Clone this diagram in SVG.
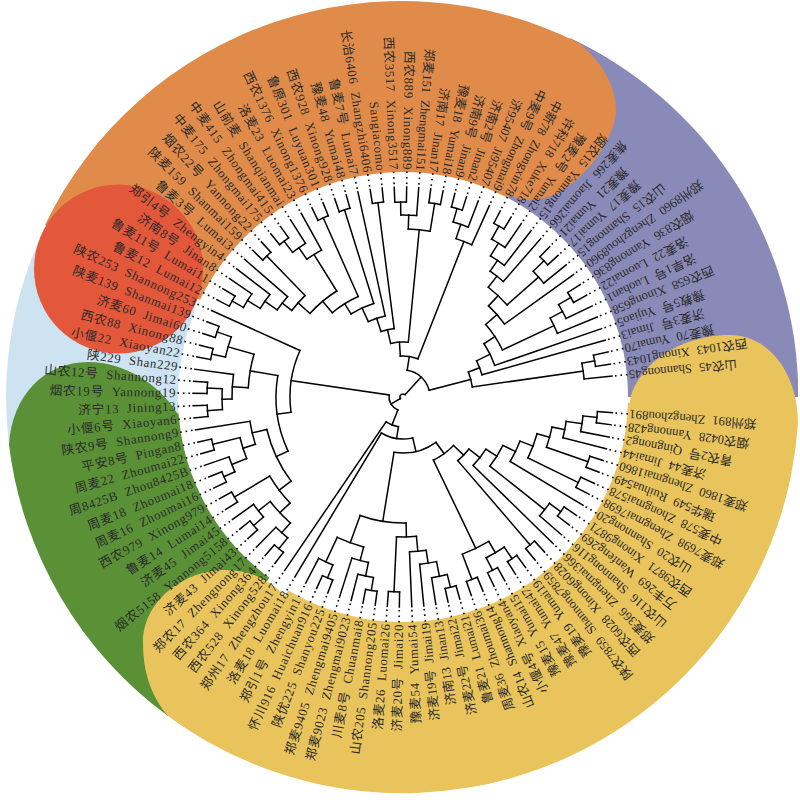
<svg xmlns="http://www.w3.org/2000/svg" width="800" height="800" viewBox="0 0 800 800">
<style>
#tree *{fill:none;stroke:#000;stroke-width:1.5;stroke-linecap:square}
#dots *{fill:none;stroke:#000;stroke-width:1.6;stroke-dasharray:1.6 3.9}
text{font-family:"Liberation Serif","Noto Sans CJK SC",serif;text-anchor:end;dominant-baseline:central;fill:#2b2b2b;word-spacing:4px}
.r{font-size:12.7px}
.l{font-size:12.8px;letter-spacing:.65px}
</style>
<defs><path id="d" d="M213 0H227"/></defs>
<g id="regions">
<path fill="#cde3f1" d="M402 397L37 245A396 396 0 0 0 9 445Z"/>
<path fill="#8a8ab8" d="M402 397L570 38A396 396 0 0 1 798 380L798 397Z"/>
<path fill="#e08b4a" d="M402 397L45 225A396 396 0 0 1 579 43C600 60 616 85 616 110C616 140 575 200 530 200C522 200 515 198 510 195Z"/>
<circle fill="#e3573a" cx="118.5" cy="269" r="84.5"/>
<path fill="#5a9136" d="M402 397L190 420L177 413C160 385 125 362 88 362C45 362 12 395 9 445A396 396 0 0 0 168 716Z"/>
<path fill="#e9c45c" d="M402 397L620 400L630 403C632 375 670 335 730 335C770 335 798 375 798 423A396 396 0 0 1 168 716C150 695 143 670 143 643C143 600 185 570 225 570C250 570 270 580 285 596Z"/>
<circle fill="#fff" cx="403" cy="397" r="225"/>
</g>
<g transform="translate(403 397)">
<g id="connectors">
<g id="dots">
<use href="#d" transform="rotate(4.3)"/><use href="#d" transform="rotate(7.6)"/><use href="#d" transform="rotate(11)"/><use href="#d" transform="rotate(14.3)"/><use href="#d" transform="rotate(17.6)"/><use href="#d" transform="rotate(21)"/><use href="#d" transform="rotate(24.3)"/><use href="#d" transform="rotate(27.6)"/><use href="#d" transform="rotate(31)"/><use href="#d" transform="rotate(34.3)"/><use href="#d" transform="rotate(37.6)"/><use href="#d" transform="rotate(41)"/><use href="#d" transform="rotate(44.3)"/><use href="#d" transform="rotate(47.6)"/><use href="#d" transform="rotate(51)"/><use href="#d" transform="rotate(54.3)"/><use href="#d" transform="rotate(57.6)"/><use href="#d" transform="rotate(61)"/><use href="#d" transform="rotate(64.3)"/><use href="#d" transform="rotate(67.6)"/><use href="#d" transform="rotate(71)"/><use href="#d" transform="rotate(74.3)"/><use href="#d" transform="rotate(77.6)"/><use href="#d" transform="rotate(81)"/><use href="#d" transform="rotate(84.3)"/><use href="#d" transform="rotate(87.6)"/><use href="#d" transform="rotate(91)"/><use href="#d" transform="rotate(94.3)"/><use href="#d" transform="rotate(97.6)"/><use href="#d" transform="rotate(101)"/><use href="#d" transform="rotate(104.3)"/><use href="#d" transform="rotate(107.6)"/><use href="#d" transform="rotate(111)"/><use href="#d" transform="rotate(114.3)"/><use href="#d" transform="rotate(117.6)"/><use href="#d" transform="rotate(121)"/><use href="#d" transform="rotate(124.3)"/><use href="#d" transform="rotate(127.6)"/><use href="#d" transform="rotate(131)"/><use href="#d" transform="rotate(134.3)"/><use href="#d" transform="rotate(137.6)"/><use href="#d" transform="rotate(141)"/><use href="#d" transform="rotate(144.3)"/><use href="#d" transform="rotate(147.6)"/><use href="#d" transform="rotate(151)"/><use href="#d" transform="rotate(154.3)"/><use href="#d" transform="rotate(157.6)"/><use href="#d" transform="rotate(161)"/><use href="#d" transform="rotate(164.3)"/><use href="#d" transform="rotate(167.6)"/><use href="#d" transform="rotate(171)"/><use href="#d" transform="rotate(174.3)"/><use href="#d" transform="rotate(177.6)"/><use href="#d" transform="rotate(181)"/><use href="#d" transform="rotate(184.3)"/><use href="#d" transform="rotate(187.6)"/><use href="#d" transform="rotate(191)"/><use href="#d" transform="rotate(194.3)"/><use href="#d" transform="rotate(197.6)"/><use href="#d" transform="rotate(201)"/><use href="#d" transform="rotate(204.3)"/><use href="#d" transform="rotate(207.6)"/><use href="#d" transform="rotate(211)"/><use href="#d" transform="rotate(214.3)"/><use href="#d" transform="rotate(217.6)"/><use href="#d" transform="rotate(221)"/><use href="#d" transform="rotate(224.3)"/><use href="#d" transform="rotate(227.6)"/><use href="#d" transform="rotate(231)"/><use href="#d" transform="rotate(234.3)"/><use href="#d" transform="rotate(237.6)"/><use href="#d" transform="rotate(241)"/><use href="#d" transform="rotate(244.3)"/><use href="#d" transform="rotate(247.6)"/><use href="#d" transform="rotate(251)"/><use href="#d" transform="rotate(254.3)"/><use href="#d" transform="rotate(257.6)"/><use href="#d" transform="rotate(261)"/><use href="#d" transform="rotate(264.3)"/><use href="#d" transform="rotate(267.6)"/><use href="#d" transform="rotate(271)"/><use href="#d" transform="rotate(274.3)"/><use href="#d" transform="rotate(277.6)"/><use href="#d" transform="rotate(281)"/><use href="#d" transform="rotate(284.3)"/><use href="#d" transform="rotate(287.6)"/><use href="#d" transform="rotate(291)"/><use href="#d" transform="rotate(294.3)"/><use href="#d" transform="rotate(297.6)"/><use href="#d" transform="rotate(301)"/><use href="#d" transform="rotate(304.3)"/><use href="#d" transform="rotate(307.6)"/><use href="#d" transform="rotate(311)"/><use href="#d" transform="rotate(314.3)"/><use href="#d" transform="rotate(317.6)"/><use href="#d" transform="rotate(321)"/><use href="#d" transform="rotate(324.3)"/><use href="#d" transform="rotate(327.6)"/><use href="#d" transform="rotate(331)"/><use href="#d" transform="rotate(334.3)"/><use href="#d" transform="rotate(337.6)"/><use href="#d" transform="rotate(341)"/><use href="#d" transform="rotate(344.3)"/><use href="#d" transform="rotate(347.6)"/><use href="#d" transform="rotate(351)"/><use href="#d" transform="rotate(354.3)"/>
</g>
<g id="tree">
<circle r="195" pathLength="360" stroke-dasharray="3.3 999" transform="rotate(4.3)"/><path d="M195 0H210" transform="rotate(4.3)"/><path d="M195 0H210" transform="rotate(7.6)"/>
<circle r="181" pathLength="360" stroke-dasharray="5 999" transform="rotate(6)"/><path d="M181 0H195" transform="rotate(6)"/><path d="M181 0H210" transform="rotate(11)"/>
<circle r="165" pathLength="360" stroke-dasharray="5.8 999" transform="rotate(8.5)"/><path d="M165 0H181" transform="rotate(8.5)"/><path d="M165 0H210" transform="rotate(14.3)"/>
<circle r="196" pathLength="360" stroke-dasharray="3.4 999" transform="rotate(17.6)"/><path d="M196 0H210" transform="rotate(17.6)"/><path d="M196 0H210" transform="rotate(21)"/>
<circle r="152" pathLength="360" stroke-dasharray="7.9 999" transform="rotate(11.4)"/><path d="M152 0H165" transform="rotate(11.4)"/><path d="M152 0H196" transform="rotate(19.3)"/>
<circle r="195" pathLength="360" stroke-dasharray="3.3 999" transform="rotate(24.3)"/><path d="M195 0H210" transform="rotate(24.3)"/><path d="M195 0H210" transform="rotate(27.6)"/>
<circle r="139" pathLength="360" stroke-dasharray="10.65 999" transform="rotate(15.35)"/><path d="M139 0H152" transform="rotate(15.35)"/><path d="M139 0H195" transform="rotate(26)"/>
<circle r="125" pathLength="360" stroke-dasharray="10.3 999" transform="rotate(20.7)"/><path d="M125 0H139" transform="rotate(20.7)"/><path d="M125 0H210" transform="rotate(31)"/>
<circle r="195" pathLength="360" stroke-dasharray="3.3 999" transform="rotate(34.3)"/><path d="M195 0H210" transform="rotate(34.3)"/><path d="M195 0H210" transform="rotate(37.6)"/>
<circle r="181" pathLength="360" stroke-dasharray="5 999" transform="rotate(36)"/><path d="M181 0H195" transform="rotate(36)"/><path d="M181 0H210" transform="rotate(41)"/>
<circle r="111" pathLength="360" stroke-dasharray="12.65 999" transform="rotate(25.85)"/><path d="M111 0H125" transform="rotate(25.85)"/><path d="M111 0H181" transform="rotate(38.5)"/>
<circle r="98" pathLength="360" stroke-dasharray="12.1 999" transform="rotate(32.2)"/><path d="M98 0H111" transform="rotate(32.2)"/><path d="M98 0H210" transform="rotate(44.3)"/>
<circle r="195" pathLength="360" stroke-dasharray="3.4 999" transform="rotate(47.6)"/><path d="M195 0H210" transform="rotate(47.6)"/><path d="M195 0H210" transform="rotate(51)"/>
<circle r="84" pathLength="360" stroke-dasharray="11.05 999" transform="rotate(38.25)"/><path d="M84 0H98" transform="rotate(38.25)"/><path d="M84 0H195" transform="rotate(49.3)"/>
<circle r="195" pathLength="360" stroke-dasharray="3.3 999" transform="rotate(54.3)"/><path d="M195 0H210" transform="rotate(54.3)"/><path d="M195 0H210" transform="rotate(57.6)"/>
<circle r="195" pathLength="360" stroke-dasharray="3.3 999" transform="rotate(61)"/><path d="M195 0H210" transform="rotate(61)"/><path d="M195 0H210" transform="rotate(64.3)"/>
<circle r="181" pathLength="360" stroke-dasharray="6.65 999" transform="rotate(56)"/><path d="M181 0H195" transform="rotate(56)"/><path d="M181 0H195" transform="rotate(62.65)"/>
<circle r="195" pathLength="360" stroke-dasharray="3.4 999" transform="rotate(67.6)"/><path d="M195 0H210" transform="rotate(67.6)"/><path d="M195 0H210" transform="rotate(71)"/>
<circle r="168" pathLength="360" stroke-dasharray="10 999" transform="rotate(59.3)"/><path d="M168 0H181" transform="rotate(59.3)"/><path d="M168 0H195" transform="rotate(69.3)"/>
<circle r="70" pathLength="360" stroke-dasharray="20.5 999" transform="rotate(43.8)"/><path d="M70 0H84" transform="rotate(43.8)"/><path d="M70 0H168" transform="rotate(64.3)"/>
<circle r="196" pathLength="360" stroke-dasharray="3.3 999" transform="rotate(74.3)"/><path d="M196 0H210" transform="rotate(74.3)"/><path d="M196 0H210" transform="rotate(77.6)"/>
<circle r="183" pathLength="360" stroke-dasharray="5 999" transform="rotate(76)"/><path d="M183 0H196" transform="rotate(76)"/><path d="M183 0H210" transform="rotate(81)"/>
<circle r="168" pathLength="360" stroke-dasharray="5.8 999" transform="rotate(78.5)"/><path d="M168 0H183" transform="rotate(78.5)"/><path d="M168 0H210" transform="rotate(84.3)"/>
<circle r="155" pathLength="360" stroke-dasharray="6.2 999" transform="rotate(81.4)"/><path d="M155 0H168" transform="rotate(81.4)"/><path d="M155 0H210" transform="rotate(87.6)"/>
<circle r="195" pathLength="360" stroke-dasharray="3.3 999" transform="rotate(91)"/><path d="M195 0H210" transform="rotate(91)"/><path d="M195 0H210" transform="rotate(94.3)"/>
<circle r="140" pathLength="360" stroke-dasharray="8.15 999" transform="rotate(84.5)"/><path d="M140 0H155" transform="rotate(84.5)"/><path d="M140 0H195" transform="rotate(92.65)"/>
<circle r="196" pathLength="360" stroke-dasharray="3.4 999" transform="rotate(97.6)"/><path d="M196 0H210" transform="rotate(97.6)"/><path d="M196 0H210" transform="rotate(101)"/>
<circle r="183" pathLength="360" stroke-dasharray="5 999" transform="rotate(99.3)"/><path d="M183 0H196" transform="rotate(99.3)"/><path d="M183 0H210" transform="rotate(104.3)"/>
<circle r="169" pathLength="360" stroke-dasharray="5.8 999" transform="rotate(101.8)"/><path d="M169 0H183" transform="rotate(101.8)"/><path d="M169 0H210" transform="rotate(107.6)"/>
<circle r="196" pathLength="360" stroke-dasharray="3.3 999" transform="rotate(111)"/><path d="M196 0H210" transform="rotate(111)"/><path d="M196 0H210" transform="rotate(114.3)"/>
<circle r="182" pathLength="360" stroke-dasharray="4.95 999" transform="rotate(112.65)"/><path d="M182 0H196" transform="rotate(112.65)"/><path d="M182 0H210" transform="rotate(117.6)"/>
<circle r="155" pathLength="360" stroke-dasharray="10.4 999" transform="rotate(104.7)"/><path d="M155 0H169" transform="rotate(104.7)"/><path d="M155 0H182" transform="rotate(115.1)"/>
<circle r="126" pathLength="360" stroke-dasharray="21.3 999" transform="rotate(88.6)"/><path d="M126 0H140" transform="rotate(88.6)"/><path d="M126 0H155" transform="rotate(109.9)"/>
<circle r="56" pathLength="360" stroke-dasharray="45.25 999" transform="rotate(54)"/><path d="M56 0H70" transform="rotate(54)"/><path d="M56 0H126" transform="rotate(99.25)"/>
<circle r="42" pathLength="360" stroke-dasharray="44.4 999" transform="rotate(76.6)"/><path d="M42 0H56" transform="rotate(76.6)"/><path d="M42 0H210" transform="rotate(121)"/>
<circle r="30" pathLength="360" stroke-dasharray="25.5 999" transform="rotate(98.8)"/><path d="M30 0H42" transform="rotate(98.8)"/><path d="M30 0H210" transform="rotate(124.3)"/>
<circle r="196" pathLength="360" stroke-dasharray="3.4 999" transform="rotate(127.6)"/><path d="M196 0H210" transform="rotate(127.6)"/><path d="M196 0H210" transform="rotate(131)"/>
<circle r="182" pathLength="360" stroke-dasharray="5 999" transform="rotate(129.3)"/><path d="M182 0H196" transform="rotate(129.3)"/><path d="M182 0H210" transform="rotate(134.3)"/>
<circle r="197" pathLength="360" stroke-dasharray="3.4 999" transform="rotate(137.6)"/><path d="M197 0H210" transform="rotate(137.6)"/><path d="M197 0H210" transform="rotate(141)"/>
<circle r="184" pathLength="360" stroke-dasharray="5 999" transform="rotate(139.3)"/><path d="M184 0H197" transform="rotate(139.3)"/><path d="M184 0H210" transform="rotate(144.3)"/>
<circle r="169" pathLength="360" stroke-dasharray="10 999" transform="rotate(131.8)"/><path d="M169 0H182" transform="rotate(131.8)"/><path d="M169 0H184" transform="rotate(141.8)"/>
<circle r="196" pathLength="360" stroke-dasharray="3.4 999" transform="rotate(147.6)"/><path d="M196 0H210" transform="rotate(147.6)"/><path d="M196 0H210" transform="rotate(151)"/>
<circle r="155" pathLength="360" stroke-dasharray="12.5 999" transform="rotate(136.8)"/><path d="M155 0H169" transform="rotate(136.8)"/><path d="M155 0H196" transform="rotate(149.3)"/>
<circle r="196" pathLength="360" stroke-dasharray="3.3 999" transform="rotate(154.3)"/><path d="M196 0H210" transform="rotate(154.3)"/><path d="M196 0H210" transform="rotate(157.6)"/>
<circle r="184" pathLength="360" stroke-dasharray="5 999" transform="rotate(156)"/><path d="M184 0H196" transform="rotate(156)"/><path d="M184 0H210" transform="rotate(161)"/>
<circle r="196" pathLength="360" stroke-dasharray="3.3 999" transform="rotate(164.3)"/><path d="M196 0H210" transform="rotate(164.3)"/><path d="M196 0H210" transform="rotate(167.6)"/>
<circle r="168" pathLength="360" stroke-dasharray="7.5 999" transform="rotate(158.5)"/><path d="M168 0H184" transform="rotate(158.5)"/><path d="M168 0H196" transform="rotate(166)"/>
<circle r="155" pathLength="360" stroke-dasharray="8.75 999" transform="rotate(162.25)"/><path d="M155 0H168" transform="rotate(162.25)"/><path d="M155 0H210" transform="rotate(171)"/>
<circle r="140" pathLength="360" stroke-dasharray="23.55 999" transform="rotate(143.05)"/><path d="M140 0H155" transform="rotate(143.05)"/><path d="M140 0H155" transform="rotate(166.6)"/>
<circle r="196" pathLength="360" stroke-dasharray="3.3 999" transform="rotate(174.3)"/><path d="M196 0H210" transform="rotate(174.3)"/><path d="M196 0H210" transform="rotate(177.6)"/>
<circle r="196" pathLength="360" stroke-dasharray="3.3 999" transform="rotate(181)"/><path d="M196 0H210" transform="rotate(181)"/><path d="M196 0H210" transform="rotate(184.3)"/>
<circle r="181" pathLength="360" stroke-dasharray="6.65 999" transform="rotate(176)"/><path d="M181 0H196" transform="rotate(176)"/><path d="M181 0H196" transform="rotate(182.65)"/>
<circle r="171" pathLength="360" stroke-dasharray="8.3 999" transform="rotate(179.3)"/><path d="M171 0H181" transform="rotate(179.3)"/><path d="M171 0H210" transform="rotate(187.6)"/>
<circle r="196" pathLength="360" stroke-dasharray="3.3 999" transform="rotate(191)"/><path d="M196 0H210" transform="rotate(191)"/><path d="M196 0H210" transform="rotate(194.3)"/>
<circle r="197" pathLength="360" stroke-dasharray="3.4 999" transform="rotate(197.6)"/><path d="M197 0H210" transform="rotate(197.6)"/><path d="M197 0H210" transform="rotate(201)"/>
<circle r="182" pathLength="360" stroke-dasharray="6.65 999" transform="rotate(192.65)"/><path d="M182 0H196" transform="rotate(192.65)"/><path d="M182 0H197" transform="rotate(199.3)"/>
<circle r="155" pathLength="360" stroke-dasharray="12.55 999" transform="rotate(183.45)"/><path d="M155 0H171" transform="rotate(183.45)"/><path d="M155 0H182" transform="rotate(196)"/>
<circle r="127" pathLength="360" stroke-dasharray="34.9 999" transform="rotate(154.8)"/><path d="M127 0H140" transform="rotate(154.8)"/><path d="M127 0H155" transform="rotate(189.7)"/>
<circle r="113" pathLength="360" stroke-dasharray="32.05 999" transform="rotate(172.25)"/><path d="M113 0H127" transform="rotate(172.25)"/><path d="M113 0H210" transform="rotate(204.3)"/>
<circle r="14" pathLength="360" stroke-dasharray="76.8 999" transform="rotate(111.5)"/><path d="M14 0H30" transform="rotate(111.5)"/><path d="M14 0H113" transform="rotate(188.3)"/>
<circle r="196" pathLength="360" stroke-dasharray="3.4 999" transform="rotate(207.6)"/><path d="M196 0H210" transform="rotate(207.6)"/><path d="M196 0H210" transform="rotate(211)"/>
<circle r="183" pathLength="360" stroke-dasharray="5 999" transform="rotate(209.3)"/><path d="M183 0H196" transform="rotate(209.3)"/><path d="M183 0H210" transform="rotate(214.3)"/>
<circle r="168" pathLength="360" stroke-dasharray="5.8 999" transform="rotate(211.8)"/><path d="M168 0H183" transform="rotate(211.8)"/><path d="M168 0H210" transform="rotate(217.6)"/>
<circle r="153" pathLength="360" stroke-dasharray="6.3 999" transform="rotate(214.7)"/><path d="M153 0H168" transform="rotate(214.7)"/><path d="M153 0H210" transform="rotate(221)"/>
<circle r="196" pathLength="360" stroke-dasharray="3.3 999" transform="rotate(224.3)"/><path d="M196 0H210" transform="rotate(224.3)"/><path d="M196 0H210" transform="rotate(227.6)"/>
<circle r="141" pathLength="360" stroke-dasharray="8.15 999" transform="rotate(217.85)"/><path d="M141 0H153" transform="rotate(217.85)"/><path d="M141 0H196" transform="rotate(226)"/>
<circle r="196" pathLength="360" stroke-dasharray="3.3 999" transform="rotate(231)"/><path d="M196 0H210" transform="rotate(231)"/><path d="M196 0H210" transform="rotate(234.3)"/>
<circle r="182" pathLength="360" stroke-dasharray="4.95 999" transform="rotate(232.65)"/><path d="M182 0H196" transform="rotate(232.65)"/><path d="M182 0H210" transform="rotate(237.6)"/>
<circle r="168" pathLength="360" stroke-dasharray="5.9 999" transform="rotate(235.1)"/><path d="M168 0H182" transform="rotate(235.1)"/><path d="M168 0H210" transform="rotate(241)"/>
<circle r="125" pathLength="360" stroke-dasharray="16.1 999" transform="rotate(221.9)"/><path d="M125 0H141" transform="rotate(221.9)"/><path d="M125 0H168" transform="rotate(238)"/>
<circle r="196" pathLength="360" stroke-dasharray="3.3 999" transform="rotate(244.3)"/><path d="M196 0H210" transform="rotate(244.3)"/><path d="M196 0H210" transform="rotate(247.6)"/>
<circle r="110" pathLength="360" stroke-dasharray="16 999" transform="rotate(230)"/><path d="M110 0H125" transform="rotate(230)"/><path d="M110 0H196" transform="rotate(246)"/>
<circle r="196" pathLength="360" stroke-dasharray="3.3 999" transform="rotate(251)"/><path d="M196 0H210" transform="rotate(251)"/><path d="M196 0H210" transform="rotate(254.3)"/>
<circle r="98" pathLength="360" stroke-dasharray="14.65 999" transform="rotate(238)"/><path d="M98 0H110" transform="rotate(238)"/><path d="M98 0H196" transform="rotate(252.65)"/>
<circle r="83" pathLength="360" stroke-dasharray="12.3 999" transform="rotate(245.3)"/><path d="M83 0H98" transform="rotate(245.3)"/><path d="M83 0H210" transform="rotate(257.6)"/>
<circle r="196" pathLength="360" stroke-dasharray="3.3 999" transform="rotate(261)"/><path d="M196 0H210" transform="rotate(261)"/><path d="M196 0H210" transform="rotate(264.3)"/>
<circle r="69" pathLength="360" stroke-dasharray="11.2 999" transform="rotate(251.45)"/><path d="M69 0H83" transform="rotate(251.45)"/><path d="M69 0H196" transform="rotate(262.65)"/>
<circle r="195" pathLength="360" stroke-dasharray="3.4 999" transform="rotate(267.6)"/><path d="M195 0H210" transform="rotate(267.6)"/><path d="M195 0H210" transform="rotate(271)"/>
<circle r="182" pathLength="360" stroke-dasharray="5 999" transform="rotate(269.3)"/><path d="M182 0H195" transform="rotate(269.3)"/><path d="M182 0H210" transform="rotate(274.3)"/>
<circle r="196" pathLength="360" stroke-dasharray="3.4 999" transform="rotate(277.6)"/><path d="M196 0H210" transform="rotate(277.6)"/><path d="M196 0H210" transform="rotate(281)"/>
<circle r="168" pathLength="360" stroke-dasharray="7.5 999" transform="rotate(271.8)"/><path d="M168 0H182" transform="rotate(271.8)"/><path d="M168 0H196" transform="rotate(279.3)"/>
<circle r="55" pathLength="360" stroke-dasharray="18.55 999" transform="rotate(257)"/><path d="M55 0H69" transform="rotate(257)"/><path d="M55 0H168" transform="rotate(275.55)"/>
<circle r="196" pathLength="360" stroke-dasharray="3.3 999" transform="rotate(284.3)"/><path d="M196 0H210" transform="rotate(284.3)"/><path d="M196 0H210" transform="rotate(287.6)"/>
<circle r="182" pathLength="360" stroke-dasharray="5 999" transform="rotate(286)"/><path d="M182 0H196" transform="rotate(286)"/><path d="M182 0H210" transform="rotate(291)"/>
<circle r="167" pathLength="360" stroke-dasharray="5.8 999" transform="rotate(288.5)"/><path d="M167 0H182" transform="rotate(288.5)"/><path d="M167 0H210" transform="rotate(294.3)"/>
<circle r="41" pathLength="360" stroke-dasharray="25.1 999" transform="rotate(266.3)"/><path d="M41 0H55" transform="rotate(266.3)"/><path d="M41 0H167" transform="rotate(291.4)"/>
<circle r="196" pathLength="360" stroke-dasharray="3.4 999" transform="rotate(297.6)"/><path d="M196 0H210" transform="rotate(297.6)"/><path d="M196 0H210" transform="rotate(301)"/>
<circle r="181" pathLength="360" stroke-dasharray="5 999" transform="rotate(299.3)"/><path d="M181 0H196" transform="rotate(299.3)"/><path d="M181 0H210" transform="rotate(304.3)"/>
<circle r="166" pathLength="360" stroke-dasharray="5.8 999" transform="rotate(301.8)"/><path d="M166 0H181" transform="rotate(301.8)"/><path d="M166 0H210" transform="rotate(307.6)"/>
<circle r="153" pathLength="360" stroke-dasharray="6.3 999" transform="rotate(304.7)"/><path d="M153 0H166" transform="rotate(304.7)"/><path d="M153 0H210" transform="rotate(311)"/>
<circle r="196" pathLength="360" stroke-dasharray="3.3 999" transform="rotate(314.3)"/><path d="M196 0H210" transform="rotate(314.3)"/><path d="M196 0H210" transform="rotate(317.6)"/>
<circle r="181" pathLength="360" stroke-dasharray="5 999" transform="rotate(316)"/><path d="M181 0H196" transform="rotate(316)"/><path d="M181 0H210" transform="rotate(321)"/>
<circle r="139" pathLength="360" stroke-dasharray="10.65 999" transform="rotate(307.85)"/><path d="M139 0H153" transform="rotate(307.85)"/><path d="M139 0H181" transform="rotate(318.5)"/>
<circle r="125" pathLength="360" stroke-dasharray="11.1 999" transform="rotate(313.2)"/><path d="M125 0H139" transform="rotate(313.2)"/><path d="M125 0H210" transform="rotate(324.3)"/>
<circle r="195" pathLength="360" stroke-dasharray="3.4 999" transform="rotate(327.6)"/><path d="M195 0H210" transform="rotate(327.6)"/><path d="M195 0H210" transform="rotate(331)"/>
<circle r="181" pathLength="360" stroke-dasharray="5 999" transform="rotate(329.3)"/><path d="M181 0H195" transform="rotate(329.3)"/><path d="M181 0H210" transform="rotate(334.3)"/>
<circle r="167" pathLength="360" stroke-dasharray="5.8 999" transform="rotate(331.8)"/><path d="M167 0H181" transform="rotate(331.8)"/><path d="M167 0H210" transform="rotate(337.6)"/>
<circle r="110" pathLength="360" stroke-dasharray="15.95 999" transform="rotate(318.75)"/><path d="M110 0H125" transform="rotate(318.75)"/><path d="M110 0H167" transform="rotate(334.7)"/>
<circle r="97" pathLength="360" stroke-dasharray="14.3 999" transform="rotate(326.7)"/><path d="M97 0H110" transform="rotate(326.7)"/><path d="M97 0H210" transform="rotate(341)"/>
<circle r="82" pathLength="360" stroke-dasharray="10.45 999" transform="rotate(333.85)"/><path d="M82 0H97" transform="rotate(333.85)"/><path d="M82 0H210" transform="rotate(344.3)"/>
<circle r="195" pathLength="360" stroke-dasharray="3.4 999" transform="rotate(347.6)"/><path d="M195 0H210" transform="rotate(347.6)"/><path d="M195 0H210" transform="rotate(351)"/>
<circle r="182" pathLength="360" stroke-dasharray="5 999" transform="rotate(349.3)"/><path d="M182 0H195" transform="rotate(349.3)"/><path d="M182 0H210" transform="rotate(354.3)"/>
<circle r="70" pathLength="360" stroke-dasharray="12.7 999" transform="rotate(339.1)"/><path d="M70 0H82" transform="rotate(339.1)"/><path d="M70 0H182" transform="rotate(351.8)"/>
<circle r="27" pathLength="360" stroke-dasharray="66.6 999" transform="rotate(278.85)"/><path d="M27 0H41" transform="rotate(278.85)"/><path d="M27 0H70" transform="rotate(345.45)"/>
<circle r="3" pathLength="360" stroke-dasharray="162.25 999" transform="rotate(149.9)"/><path d="M3 0H14" transform="rotate(149.9)"/><path d="M3 0H27" transform="rotate(312.15)"/>
</g>
</g>
<g id="n0"><text class="r" x="-227" transform="rotate(184.3)">郑州891 Zhengzhou891</text></g>
<g id="n1"><text class="r" x="-227" transform="rotate(187.6)">烟农0428 Yannong428</text></g>
<g id="n2"><text class="r" x="-227" transform="rotate(191)">青农2号 Qingnong2</text></g>
<g id="n3"><text class="r" x="-227" transform="rotate(194.3)">济麦44 Jimai44</text></g>
<g id="n4"><text class="r" x="-227" transform="rotate(197.6)">郑麦1860 Zhengmai1860</text></g>
<g id="n5"><text class="r" x="-227" transform="rotate(201)">瑞华549 Ruihua549</text></g>
<g id="n6"><text class="r" x="-227" transform="rotate(204.3)">中麦578 Zhongmai578</text></g>
<g id="n7"><text class="r" x="-227" transform="rotate(207.6)">郑麦7698 Zhengmai7698</text></g>
<g id="n8"><text class="r" x="-227" transform="rotate(211)">山农20 Shannong20</text></g>
<g id="n9"><text class="r" x="-227" transform="rotate(214.3)">西农9871 Xinong9871</text></g>
<g id="n10"><text class="r" x="-227" transform="rotate(217.6)">万丰269 Wanfeng269</text></g>
<g id="n11"><text class="r" x="-227" transform="rotate(221)">山农116 Shannong116</text></g>
<g id="n12"><text class="r" x="-227" transform="rotate(224.3)">郑麦366 Zhengmai366</text></g>
<g id="n13"><text class="r" x="-227" transform="rotate(227.6)">西农6028 Xinong6028</text></g>
<g id="n14"><text class="r" x="-227" transform="rotate(231)">陕农7859 Shannong7859</text></g>
<g id="n15"><text class="r" x="-227" transform="rotate(234.3)">豫麦19 Yumai19</text></g>
<g id="n16"><text class="r" x="-227" transform="rotate(237.6)">豫麦47 Yumai47</text></g>
<g id="n17"><text class="r" x="-227" transform="rotate(241)">豫麦15 Yumai15</text></g>
<g id="n18"><text class="r" x="-227" transform="rotate(244.3)">小偃4号 Xiaoyan4</text></g>
<g id="n19"><text class="r" x="-227" transform="rotate(247.6)">山农14 Shannong14</text></g>
<g id="n20"><text class="r" x="-227" transform="rotate(251)">周麦36 Zhoumai36</text></g>
<g id="n21"><text class="r" x="-227" transform="rotate(254.3)">鲁麦21 Lumai21</text></g>
<g id="n22"><text class="r" x="-227" transform="rotate(257.6)">济麦22号 Jimai22</text></g>
<g id="n23"><text class="r" x="-227" transform="rotate(261)">济南13 Jinan13</text></g>
<g id="n24"><text class="r" x="-227" transform="rotate(264.3)">济麦19号 Jimai19</text></g>
<g id="n25"><text class="l" x="-227" transform="rotate(267.6)">豫麦54 Yumai54</text></g>
<g id="n26"><text class="l" x="-227" transform="rotate(271)">济麦20号 Jimai20</text></g>
<g id="n27"><text class="l" x="-227" transform="rotate(274.3)">洛麦26 Luomai26</text></g>
<g id="n28"><text class="l" x="-227" transform="rotate(277.6)">山农205 Shannong205</text></g>
<g id="n29"><text class="l" x="-227" transform="rotate(281)">川麦8号 Chuanmai8</text></g>
<g id="n30"><text class="l" x="-227" transform="rotate(284.3)">郑麦9023 Zhengmai9023</text></g>
<g id="n31"><text class="l" x="-227" transform="rotate(287.6)">郑麦9405 Zhengmai9405</text></g>
<g id="n32"><text class="l" x="-227" transform="rotate(291)">陕优225 Shanyou225</text></g>
<g id="n33"><text class="l" x="-227" transform="rotate(294.3)">怀川916 Huaichuan916</text></g>
<g id="n34"><text class="l" x="-227" transform="rotate(297.6)">郑引1号 Zhengyin1</text></g>
<g id="n35"><text class="l" x="-227" transform="rotate(301)">洛麦18 Luomai18</text></g>
<g id="n36"><text class="l" x="-227" transform="rotate(304.3)">郑州17 Zhengzhou17</text></g>
<g id="n37"><text class="l" x="-227" transform="rotate(307.6)">西农528 Xinong528</text></g>
<g id="n38"><text class="l" x="-227" transform="rotate(311)">西农364 Xinong364</text></g>
<g id="n39"><text class="l" x="-227" transform="rotate(314.3)">郑农17 Zhengnong17</text></g>
<g id="n40"><text class="l" x="-227" transform="rotate(317.6)">济麦43 Jimai43</text></g>
<g id="n41"><text class="l" x="-227" transform="rotate(321)">烟农5158 Yannong5158</text></g>
<g id="n42"><text class="l" x="-227" transform="rotate(324.3)">济麦45 Jimai45</text></g>
<g id="n43"><text class="l" x="-227" transform="rotate(327.6)">鲁麦14 Lumai14</text></g>
<g id="n44"><text class="l" x="-227" transform="rotate(331)">西农979 Xinong979</text></g>
<g id="n45"><text class="l" x="-227" transform="rotate(334.3)">周麦16 Zhoumai16</text></g>
<g id="n46"><text class="l" x="-227" transform="rotate(337.6)">周麦18 Zhoumai18</text></g>
<g id="n47"><text class="l" x="-227" transform="rotate(341)">周8425B Zhou8425B</text></g>
<g id="n48"><text class="l" x="-227" transform="rotate(344.3)">周麦22 Zhoumai22</text></g>
<g id="n49"><text class="l" x="-227" transform="rotate(347.6)">平安8号 Pingan8</text></g>
<g id="n50"><text class="l" x="-227" transform="rotate(351)">陕农9号 Shannong9</text></g>
<g id="n51"><text class="l" x="-227" transform="rotate(354.3)">小偃6号 Xiaoyan6</text></g>
<g id="n52"><text class="l" x="-227" transform="rotate(357.6)">济宁13 Jining13</text></g>
<g id="n53"><text class="l" x="-227" transform="rotate(1)">烟农19号 Yannong19</text></g>
<g id="n54"><text class="l" x="-227" transform="rotate(4.3)">山农12号 Shannong12</text></g>
<g id="n55"><text class="l" x="-227" transform="rotate(7.6)">陕229 Shan229</text></g>
<g id="n56"><text class="l" x="-227" transform="rotate(11)">小偃22 Xiaoyan22</text></g>
<g id="n57"><text class="l" x="-227" transform="rotate(14.3)">西农88 Xinong88</text></g>
<g id="n58"><text class="l" x="-227" transform="rotate(17.6)">济麦60 Jimai60</text></g>
<g id="n59"><text class="l" x="-227" transform="rotate(21)">陕麦139 Shanmai139</text></g>
<g id="n60"><text class="l" x="-227" transform="rotate(24.3)">陕农253 Shannong253</text></g>
<g id="n61"><text class="l" x="-227" transform="rotate(27.6)">鲁麦12 Lumai12</text></g>
<g id="n62"><text class="l" x="-227" transform="rotate(31)">鲁麦11号 Lumai11</text></g>
<g id="n63"><text class="l" x="-227" transform="rotate(34.3)">济南8号 Jinan8</text></g>
<g id="n64"><text class="l" x="-227" transform="rotate(37.6)">郑引4号 Zhengyin4</text></g>
<g id="n65"><text class="l" x="-227" transform="rotate(41)">鲁麦3号 Lumai3</text></g>
<g id="n66"><text class="l" x="-227" transform="rotate(44.3)">陕麦159 Shanmai159</text></g>
<g id="n67"><text class="l" x="-227" transform="rotate(47.6)">烟农22号 Yannong22</text></g>
<g id="n68"><text class="l" x="-227" transform="rotate(51)">中麦175 Zhongmai175</text></g>
<g id="n69"><text class="l" x="-227" transform="rotate(54.3)">中麦415 Zhongmai415</text></g>
<g id="n70"><text class="l" x="-227" transform="rotate(57.6)">山前麦 Shanqianmai</text></g>
<g id="n71"><text class="l" x="-227" transform="rotate(61)">洛麦23 Luomai23</text></g>
<g id="n72"><text class="l" x="-227" transform="rotate(64.3)">西农1376 Xinong1376</text></g>
<g id="n73"><text class="l" x="-227" transform="rotate(67.6)">鲁原301 Luyuan301</text></g>
<g id="n74"><text class="l" x="-227" transform="rotate(71)">西农928 Xinong928</text></g>
<g id="n75"><text class="l" x="-227" transform="rotate(74.3)">豫麦48 Yumai48</text></g>
<g id="n76"><text class="l" x="-227" transform="rotate(77.6)">鲁麦7号 Lumai7</text></g>
<g id="n77"><text class="l" x="-227" transform="rotate(81)">长治6406 Zhangzhi6406</text></g>
<g id="n78"><text class="l" x="-227" transform="rotate(84.3)">Sangiacomo</text></g>
<g id="n79"><text class="l" x="-227" transform="rotate(87.6)">西农3517 Xinong3517</text></g>
<g id="n80"><text class="l" x="-227" transform="rotate(91)">西农889 Xinong889</text></g>
<g id="n81"><text class="r" x="-227" transform="rotate(94.3)">郑麦151 Zhengmai151</text></g>
<g id="n82"><text class="r" x="-227" transform="rotate(97.6)">济南17 Jinan17</text></g>
<g id="n83"><text class="r" x="-227" transform="rotate(101)">豫麦18 Yumai18</text></g>
<g id="n84"><text class="r" x="-227" transform="rotate(104.3)">济南9号 Jinan9</text></g>
<g id="n85"><text class="r" x="-227" transform="rotate(107.6)">济南2号 Jinan2</text></g>
<g id="n86"><text class="r" x="-227" transform="rotate(111)">济95407 Ji95407</text></g>
<g id="n87"><text class="r" x="-227" transform="rotate(114.3)">中麦9号 Zhongmai9</text></g>
<g id="n88"><text class="r" x="-227" transform="rotate(117.6)">中新78 Zhongxin78</text></g>
<g id="n89"><text class="r" x="-227" transform="rotate(121)">许科718 Xuke718</text></g>
<g id="n90"><text class="r" x="-227" transform="rotate(124.3)">豫麦2号 Yumai2</text></g>
<g id="n91"><text class="r" x="-227" transform="rotate(127.6)">烟农15 Yannong15</text></g>
<g id="n92"><text class="r" x="-227" transform="rotate(131)">焦麦266 Jiaomai266</text></g>
<g id="n93"><text class="r" x="-227" transform="rotate(134.3)">豫麦21 Yumai21</text></g>
<g id="n94"><text class="r" x="-227" transform="rotate(137.6)">豫麦17 Yumai17</text></g>
<g id="n95"><text class="r" x="-227" transform="rotate(141)">山农15 Shannong15</text></g>
<g id="n96"><text class="r" x="-227" transform="rotate(144.3)">郑州8960 Zhengzhou8960</text></g>
<g id="n97"><text class="r" x="-227" transform="rotate(147.6)">烟农836 Yannong836</text></g>
<g id="n98"><text class="r" x="-227" transform="rotate(151)">洛麦22 Luomai22</text></g>
<g id="n99"><text class="r" x="-227" transform="rotate(154.3)">洛旱1号 Luohan1</text></g>
<g id="n100"><text class="r" x="-227" transform="rotate(157.6)">西农658 Xinong658</text></g>
<g id="n101"><text class="r" x="-227" transform="rotate(161)">豫教5号 Yujiao5</text></g>
<g id="n102"><text class="r" x="-227" transform="rotate(164.3)">济麦3号 Jimai3</text></g>
<g id="n103"><text class="r" x="-227" transform="rotate(167.6)">豫麦70 Yumai70</text></g>
<g id="n104"><text class="r" x="-227" transform="rotate(171)">西农1043 Xinong1043</text></g>
<g id="n105"><text class="r" x="-227" transform="rotate(174.3)">山农45 Shannong45</text></g>
</g>
</svg>
